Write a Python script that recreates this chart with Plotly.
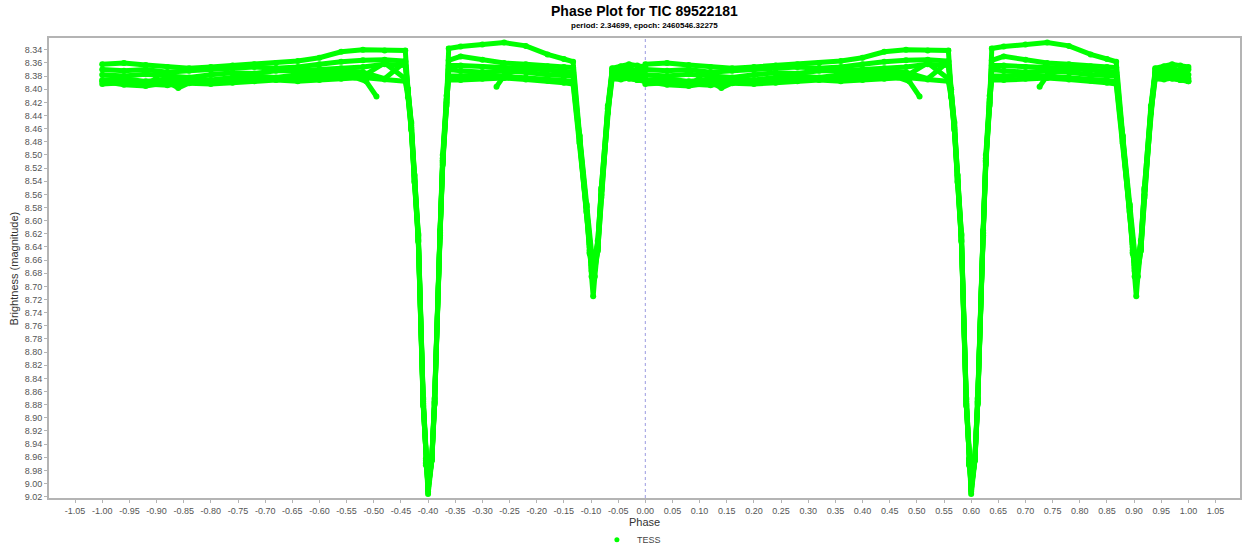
import plotly.graph_objects as go

# phase grid (left copy, -1..0); the right copy is the same fold shifted by +1
PHASE = [-1.00, -0.96, -0.92, -0.88, -0.84, -0.80, -0.76, -0.72, -0.68, -0.64,
         -0.60, -0.56, -0.52, -0.48, -0.442,
         -0.437, -0.431, -0.425, -0.418, -0.409, -0.404, -0.400, -0.393, -0.388,
         -0.378, -0.373, -0.366, -0.362,
         -0.34, -0.30, -0.26, -0.22, -0.18, -0.15, -0.133,
         -0.121, -0.108, -0.1025, -0.099, -0.096, -0.093, -0.0875, -0.081, -0.069, -0.061,
         -0.045, -0.030, -0.015, 0.000]

CYCLE_1 = [8.362, 8.360, 8.363, 8.366, 8.368, 8.366, 8.364, 8.362, 8.360, 8.357,
           8.352, 8.343, 8.340, 8.341, 8.341,
           8.400, 8.450, 8.530, 8.620, 8.870, 8.965, 9.012, 8.960, 8.875,
           8.620, 8.510, 8.420, 8.338,
           8.335, 8.332, 8.329, 8.334, 8.347, 8.354, 8.358,
           8.470, 8.575, 8.632, 8.660, 8.672, 8.660, 8.630, 8.555, 8.430, 8.368,
           8.365, 8.362, 8.364, 8.366]
CYCLE_2 = [8.370, 8.372, 8.370, 8.374, 8.372, 8.370, 8.368, 8.366, 8.368, 8.366,
           8.362, 8.358, 8.356, 8.355, 8.357,
           8.405, 8.455, 8.535, 8.625, 8.875, 8.970, 9.016, 8.965, 8.880,
           8.625, 8.515, 8.425, 8.356,
           8.350, 8.355, 8.360, 8.362, 8.365, 8.366, 8.367,
           8.475, 8.580, 8.640, 8.685, 8.715, 8.685, 8.640, 8.552, 8.425, 8.370,
           8.366, 8.368, 8.372, 8.370]
CYCLE_3 = [8.378, 8.380, 8.377, 8.380, 8.382, 8.378, 8.375, 8.376, 8.372, 8.372,
           8.370, 8.368, 8.366, 8.362, 8.364,
           8.410, 8.460, 8.540, 8.630, 8.880, 8.970, 9.008, 8.960, 8.870,
           8.615, 8.500, 8.410, 8.364,
           8.364, 8.366, 8.367, 8.368, 8.370, 8.372, 8.374,
           8.478, 8.585, 8.645, 8.668, 8.680, 8.668, 8.640, 8.560, 8.430, 8.374,
           8.372, 8.374, 8.376, 8.378]
CYCLE_4 = [8.386, 8.384, 8.388, 8.386, 8.384, 8.386, 8.382, 8.380, 8.382, 8.378,
           8.376, 8.372, 8.374, 8.384, 8.358,
           8.400, 8.452, 8.532, 8.622, 8.872, 8.962, 9.004, 8.958, 8.872,
           8.618, 8.505, 8.415, 8.370,
           8.372, 8.374, 8.372, 8.374, 8.378, 8.380, 8.380,
           8.472, 8.578, 8.636, 8.662, 8.668, 8.660, 8.632, 8.550, 8.428, 8.376,
           8.378, 8.380, 8.382, 8.384]
CYCLE_5 = [8.392, 8.390, 8.392, 8.394, 8.390, 8.388, 8.386, 8.384, 8.385, 8.382,
           8.380, 8.378, 8.380, 8.360, 8.384,
           8.408, 8.458, 8.538, 8.628, 8.878, 8.968, 9.010, 8.962, 8.878,
           8.622, 8.512, 8.422, 8.380,
           8.380, 8.378, 8.380, 8.382, 8.384, 8.386, 8.388,
           8.480, 8.586, 8.648, 8.672, 8.676, 8.670, 8.644, 8.562, 8.434, 8.380,
           8.382, 8.384, 8.386, 8.388]
CYCLE_6 = [8.388, 8.393, 8.395, 8.390, 8.391, 8.392, 8.390, 8.388, 8.386, 8.388,
           8.386, 8.384, 8.382, 8.385, 8.388,
           8.412, 8.462, 8.542, 8.632, 8.882, 8.972, 9.006, 8.964, 8.876,
           8.620, 8.508, 8.418, 8.386,
           8.386, 8.384, 8.383, 8.385, 8.387, 8.390, 8.392,
           8.482, 8.588, 8.650, 8.676, 8.684, 8.674, 8.646, 8.565, 8.436, 8.384,
           8.385, 8.383, 8.386, 8.388]
CYCLES = [CYCLE_1, CYCLE_2, CYCLE_3, CYCLE_4, CYCLE_5, CYCLE_6]

# short partial-night fragments
FRAG_PHASES = [[-0.535, -0.514, -0.495],
               [-0.274, -0.259, -0.240],
               [-0.918, -0.900],
               [-0.882, -0.860, -0.839]]
FRAG_MAGS = [[8.382, 8.388, 8.411],
             [8.396, 8.378, 8.372],
             [8.393, 8.383],
             [8.388, 8.398, 8.390]]

X_TICKS = [round(-1.05 + 0.05 * i, 2) for i in range(43)]
Y_TICKS = [round(8.34 + 0.02 * i, 2) for i in range(35)]

GREEN = "#00ff00"
FONT = "Liberation Sans"

fig = go.Figure()

def addCurve(xs, ys):
    # left fold and right fold (+1 in phase)
    for shift in (0, 1):
        fig.add_trace(go.Scatter(
            x=[p + shift for p in xs], y=ys, mode="lines+markers",
            line=dict(color=GREEN, width=5),
            marker=dict(color=GREEN, size=6),
            showlegend=False, hoverinfo="skip"))

for cycle in CYCLES:
    addCurve(PHASE, cycle)
for xs, ys in zip(FRAG_PHASES, FRAG_MAGS):
    addCurve(xs, ys)

# legend entry
fig.add_trace(go.Scatter(x=[None], y=[None], mode="markers", name="TESS",
                         marker=dict(color=GREEN, size=5)))

fig.add_vline(x=0, line=dict(color="#9a9ae0", width=1, dash="dot"), layer="below")

def note(text, x, y, size, color, angle=0):
    return dict(text=text, xref="paper", yref="paper", x=x, y=y,
                xanchor="center", yanchor="middle", textangle=angle,
                showarrow=False, font=dict(size=size, color=color))

fig.update_layout(
    width=1243, height=548,
    margin=dict(l=49, r=3, t=38, b=50, autoexpand=False),
    paper_bgcolor="white", plot_bgcolor="white",
    font=dict(family=FONT, color="#555555", size=9),
    showlegend=True,
    legend=dict(orientation="h", x=0.489, xanchor="center", y=-0.091, yanchor="middle",
                font=dict(size=9, color="#444444")),
    annotations=[
        note("<b>Phase Plot for TIC 89522181</b>", 0.5, 1.058, 14, "black"),
        note("<b>period: 2.34699, epoch: 2460546.32275</b>", 0.5, 1.028, 8, "black"),
        note("Phase", 0.5, -0.052, 11, "#333333"),
        note("Brightness (magnitude)", -0.029, 0.5, 11, "#333333", -90),
    ],
)

fig.update_xaxes(
    range=[-1.098, 1.095], tickvals=X_TICKS, ticktext=[f"{v:.2f}" for v in X_TICKS],
    showgrid=False, zeroline=False, showline=True, linecolor="#b4b4b4", linewidth=2,
    mirror=True, ticks="outside", ticklen=3, tickcolor="#b4b4b4", automargin=False)
fig.update_yaxes(
    range=[9.022, 8.322], tickvals=Y_TICKS, ticktext=[f"{v:.2f}" for v in Y_TICKS],
    showgrid=False, zeroline=False, showline=True, linecolor="#b4b4b4", linewidth=2,
    mirror=True, ticks="outside", ticklen=3, tickcolor="#b4b4b4", automargin=False)

# drop the default 8px page margin so the figure fills the window
fig.write_html("out.html", config={"displayModeBar": False},
               post_script="document.body.style.margin='0';")
